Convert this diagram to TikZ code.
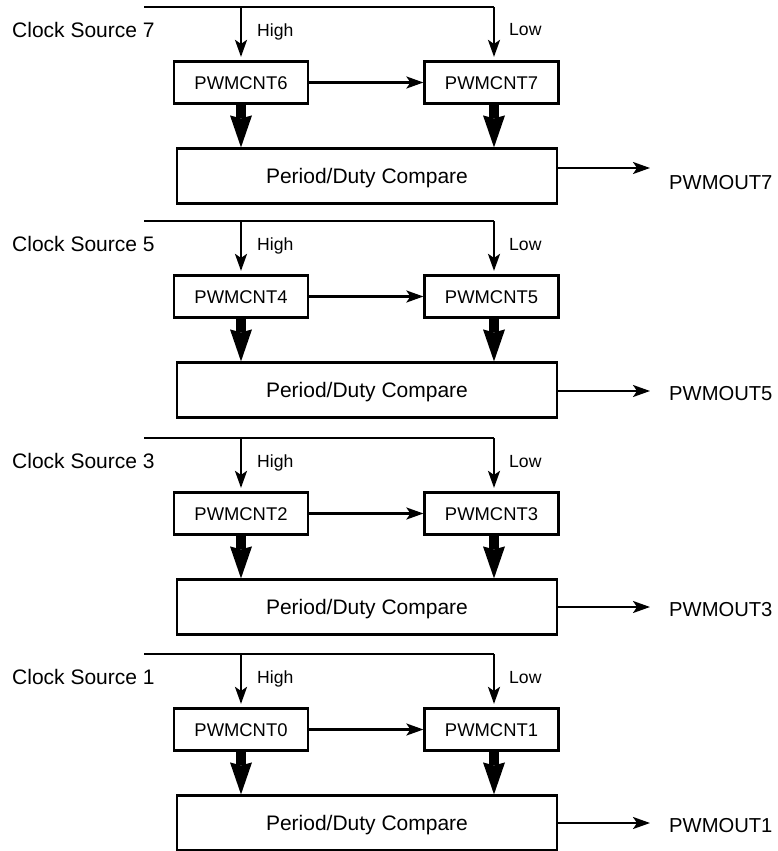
\documentclass[tikz,border=0pt]{standalone}
\usepackage{fontspec}
\setmainfont{Liberation Sans}
\usetikzlibrary{arrows.meta}
\begin{document}
\begin{tikzpicture}[x=1pt,y=-1pt,
  wire/.style={line width=2.2pt},
  box/.style={draw, line width=2.2pt, inner sep=0pt},
  cnt/.style={box, minimum width=134pt, minimum height=42pt, font=\fontsize{18.4}{20}\selectfont, text height=13.2pt, text depth=0pt},
  cmp/.style={box, minimum width=380pt, minimum height=55pt, font=\fontsize{21}{24}\selectfont, text height=15pt, text depth=0pt},
  cslbl/.style={anchor=base west, inner sep=0pt, font=\fontsize{21}{24}\selectfont},
  hllbl/.style={anchor=base west, inner sep=0pt, font=\fontsize{17.6}{20}\selectfont},
  outlbl/.style={anchor=west, inner sep=0pt, text height=14.5pt, text depth=0pt, font=\fontsize{20.2}{23}\selectfont},
  thinarrow/.style={line width=2.2pt, -{Stealth[length=17pt,width=12pt,inset=4pt]}},
  thickarrow/.style={line width=10pt, -{Stealth[length=32pt,width=22pt,inset=3pt,line width=0pt]}}
]
\useasboundingbox (0,0) rectangle (777,851);
\clip (0,0) rectangle (777,851);
\foreach \b/\L/\hi/\lo/\ao/\to in {7/7/6/7/161/175, 5/221/4/5/170/172, 3/438/2/3/169/171, 1/654/0/1/169/171} {
  \node[cnt] (hi\b) at (241, \L+75.5) {PWMCNT\hi};
  \node[cnt] (lo\b) at (491.5, \L+75.5) {PWMCNT\lo};
  \node[cmp] (cmp\b) at (367, \L+169) {Period/Duty Compare};
  \coordinate (start\b) at (144,\L);
  \coordinate (branch\b) at (241,\L);
  \coordinate (corner\b) at (494,\L);
  \coordinate (oe\b) at (650, \L+\ao);
  \node[cslbl] (cs\b) at (12,\L+30.5) {Clock Source \b};
  \node[hllbl] (high\b) at (257,\L+29.5) {High};
  \node[hllbl] (low\b) at (509,\L+29) {Low};
  \node[outlbl] (out\b) at (669, \L+\to) {PWMOUT\b};
  \draw[wire] (start\b) -- (corner\b);
  \draw[thinarrow, shorten >=3.5pt] (branch\b) -- (hi\b.north);
  \draw[thinarrow, shorten >=3.5pt] (corner\b) -- (lo\b.north -| corner\b);
  \draw[thinarrow] (hi\b) -- (lo\b);
  \draw[thickarrow] (hi\b.south) -- (cmp\b.north -| hi\b.south);
  \draw[thickarrow] (lo\b.south -| corner\b) -- (cmp\b.north -| corner\b);
  \draw[thinarrow] (cmp\b.east |- oe\b) -- (oe\b);
}
\end{tikzpicture}
\end{document}
